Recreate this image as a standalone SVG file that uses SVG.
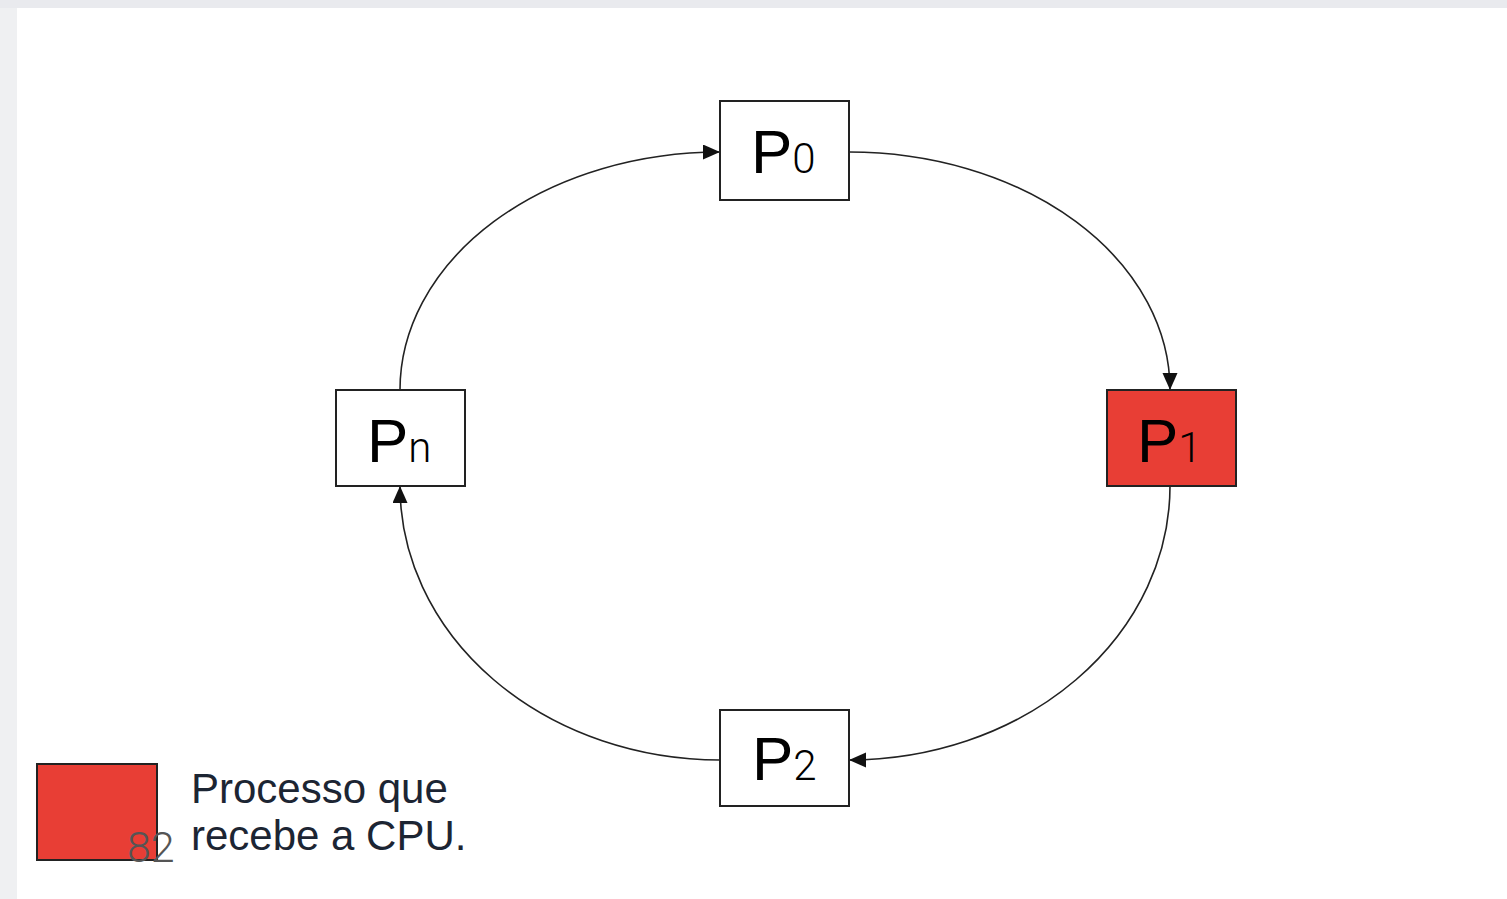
<svg xmlns="http://www.w3.org/2000/svg" width="1507" height="899" viewBox="0 0 1507 899">
  <style>
    .box { fill: #ffffff; stroke: #222222; stroke-width: 2; }
    .hot { fill: #e83e35; stroke: #222222; stroke-width: 2; }
    .lbl { font-family: "Liberation Sans", Arial, sans-serif; font-size: 62px; fill: #000000; }
    .sub { font-family: Roboto, "Liberation Sans", sans-serif; font-weight: 300; font-size: 42px; }
    .edge { fill: none; stroke: #222222; stroke-width: 1.6; }
    .legend { font-family: "Liberation Sans", Arial, sans-serif; font-size: 42px; fill: #1c2533; }
    .page { font-family: Roboto, "Liberation Sans", sans-serif; font-weight: 300; font-size: 43px; fill: #555555; }
  </style>
  <defs>
    <marker id="arrow" markerUnits="userSpaceOnUse" markerWidth="18" markerHeight="16" refX="17" refY="7.5" orient="auto">
      <path d="M0,0 L17,7.5 L0,15 z" fill="#111111"/>
    </marker>
  </defs>

  <!-- page backdrop -->
  <rect x="0" y="0" width="1507" height="899" fill="#e9eaee"/>
  <rect x="0" y="8" width="17" height="891" fill="#eff0f2"/>
  <rect x="17" y="8" width="1490" height="891" fill="#ffffff"/>

  <!-- round-robin ring -->
  <g id="connectors">
    <path class="edge" d="M849,152 A321 238 0 0 1 1170,390" marker-end="url(#arrow)"/>
    <path class="edge" d="M1170,486 A321 274 0 0 1 849,760" marker-end="url(#arrow)"/>
    <path class="edge" d="M720,760 A320 274 0 0 1 400,486" marker-end="url(#arrow)"/>
    <path class="edge" d="M400,390 A320 238 0 0 1 720,152" marker-end="url(#arrow)"/>
  </g>

  <g id="p0">
    <rect class="box" x="720" y="101" width="129" height="99"/>
    <text class="lbl" x="751" y="173">P<tspan class="sub">0</tspan></text>
  </g>

  <g id="p1">
    <rect class="hot" x="1107" y="390" width="129" height="96"/>
    <text class="lbl" x="1137" y="462">P<tspan class="sub">1</tspan></text>
  </g>

  <g id="p2">
    <rect class="box" x="720" y="710" width="129" height="96"/>
    <text class="lbl" x="752" y="780">P<tspan class="sub">2</tspan></text>
  </g>

  <g id="pn">
    <rect class="box" x="336" y="390" width="129" height="96"/>
    <text class="lbl" x="367" y="462">P<tspan class="sub">n</tspan></text>
  </g>

  <g id="legend">
    <rect class="hot" x="37" y="764" width="120" height="96"/>
    <text class="legend" x="191" y="803">Processo que</text>
    <text class="legend" x="191" y="850">recebe a CPU.</text>
  </g>

  <text class="page" x="127" y="862">82</text>
</svg>
